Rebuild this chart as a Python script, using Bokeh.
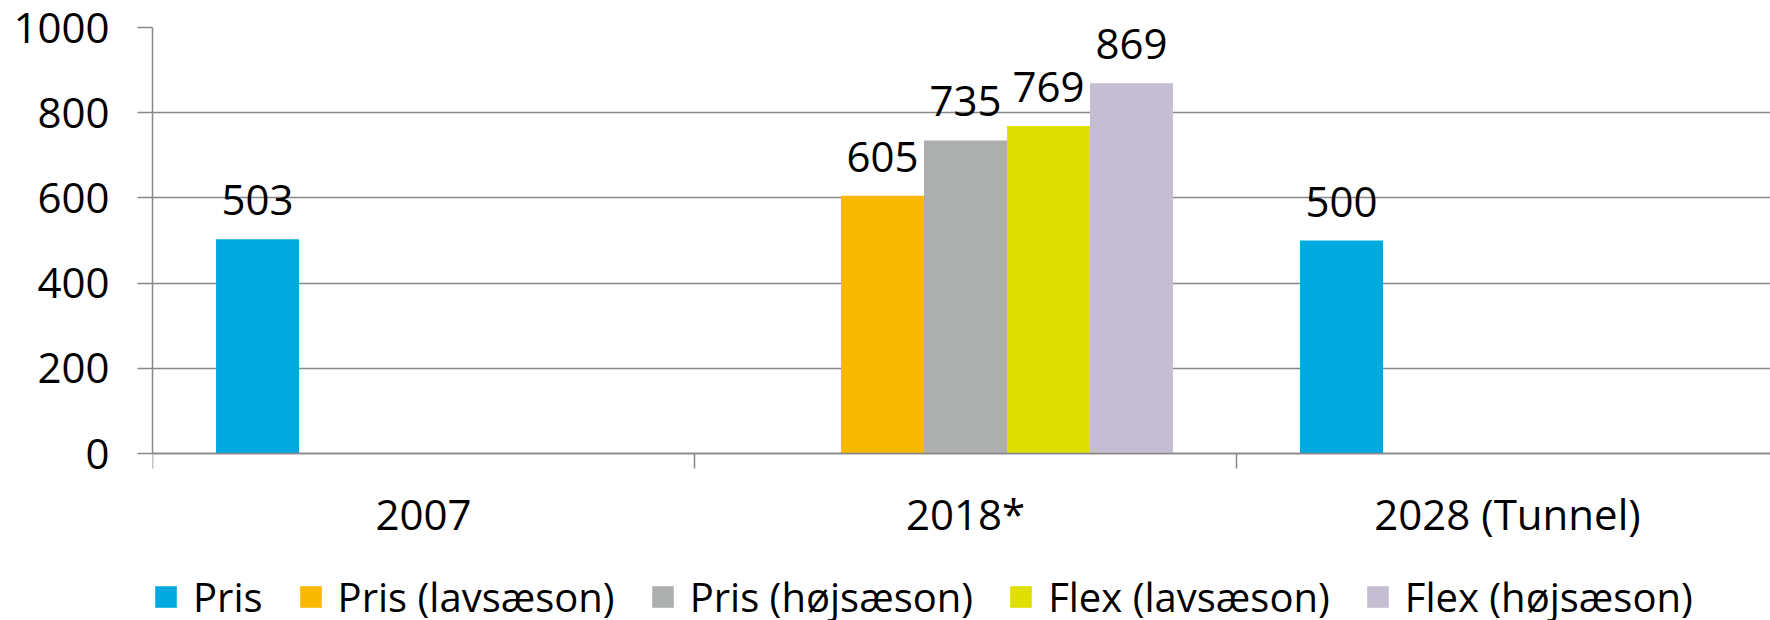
from bokeh.plotting import figure
from bokeh.models import (ColumnDataSource, Range1d, FixedTicker, Legend, LegendItem)
from bokeh.core.properties import value
from bokeh.embed import file_html
from bokeh.resources import INLINE

categories = ["2007", "2018*", "2028 (Tunnel)"]
series_names = ["Pris", "Pris (lavsæson)", "Pris (højsæson)", "Flex (lavsæson)", "Flex (højsæson)"]
pris = [503, None, 500]
pris_lav = [None, 605, None]
pris_hoj = [None, 735, None]
flex_lav = [None, 769, None]
flex_hoj = [None, 869, None]
y_ticks = [0, 200, 400, 600, 800, 1000]

series_values = [pris, pris_lav, pris_hoj, flex_lav, flex_hoj]
colors = ["#00A9E0", "#F8B900", "#ADAFAE", "#E0E000", "#C5BED3"]

FONT = "Open Sans"
GRID = "#878787"
n_series = len(series_names)
bar_w = 0.1531

# plot frame reaches down past the legend so the legend sits inside it;
# the value axis keeps 1000 units = 426 px with 0 at the x axis
FRAME_H = 613
Y_MAX = 1000
y_min = -Y_MAX * (FRAME_H - 426) / 426

p = figure(frame_width=1618, frame_height=FRAME_H, output_backend="svg", toolbar_location=None,
           x_range=Range1d(0, 1618 / 542), y_range=Range1d(y_min, Y_MAX),
           min_border_left=152, min_border_right=0, min_border_top=27, min_border_bottom=0)
p.outline_line_color = None
p.background_fill_color = "white"
p.border_fill_color = "white"

items = []
for k, (name, vals, col) in enumerate(zip(series_names, series_values, colors)):
    xs, tops, labels = [], [], []
    for i, v in enumerate(vals):
        if v is not None:
            xs.append(i + 0.5 + (k - (n_series - 1) / 2) * bar_w)
            tops.append(v)
            labels.append(str(v))
    src = ColumnDataSource(dict(x=xs, top=tops, label=labels))
    r = p.vbar(x="x", top="top", width=bar_w, bottom=0, source=src,
               fill_color=col, line_color=None)
    p.text(x="x", y="top", text="label", source=src, text_align="center",
           text_baseline="alphabetic", y_offset=-39, text_font=value(FONT),
           text_font_size="42px", text_color="black")
    items.append(LegendItem(label=name, renderers=[r]))

# y axis
p.yaxis.ticker = FixedTicker(ticks=y_ticks)
p.yaxis.bounds = (0, Y_MAX)
p.yaxis.axis_line_color = GRID
p.yaxis.axis_line_width = 1.5
p.yaxis.major_tick_line_color = GRID
p.yaxis.major_tick_line_width = 1.5
p.yaxis.major_tick_out = 15
p.yaxis.major_tick_in = 0
p.yaxis.minor_tick_line_color = None
p.yaxis.major_label_standoff = 28
p.yaxis.major_label_text_font = FONT
p.yaxis.major_label_text_font_size = "42px"
p.yaxis.major_label_text_color = "black"

# x axis (category axis drawn at value 0)
centers = [i + 0.5 for i in range(len(categories))]
bounds = [float(i) for i in range(len(categories) + 1)]
p.xaxis.fixed_location = 0
p.xaxis.ticker = FixedTicker(ticks=centers, minor_ticks=bounds)
p.xaxis.major_label_overrides = {c: lab for c, lab in zip(centers, categories)}
p.xaxis.axis_line_color = GRID
p.xaxis.axis_line_width = 1.5
p.xaxis.major_tick_line_color = None
p.xaxis.major_tick_out = 0
p.xaxis.major_tick_in = 0
p.xaxis.minor_tick_line_color = GRID
p.xaxis.minor_tick_line_width = 1.5
p.xaxis.minor_tick_out = 15
p.xaxis.minor_tick_in = 0
p.xaxis.major_label_standoff = 16
p.xaxis.major_label_text_font = FONT
p.xaxis.major_label_text_font_size = "42px"
p.xaxis.major_label_text_color = "black"

p.xgrid.grid_line_color = None
p.ygrid.ticker = FixedTicker(ticks=y_ticks)
p.ygrid.grid_line_color = GRID
p.ygrid.grid_line_width = 1.5

legend = Legend(items=items, orientation="horizontal", location=(0, 16),
                glyph_width=27, glyph_height=27, label_standoff=14, spacing=34,
                padding=0, margin=0, border_line_color=None, background_fill_alpha=0,
                label_text_font=FONT, label_text_font_size="40px", label_text_color="black")
p.add_layout(legend, "center")

open("out.html", "w").write(file_html(p, INLINE))
